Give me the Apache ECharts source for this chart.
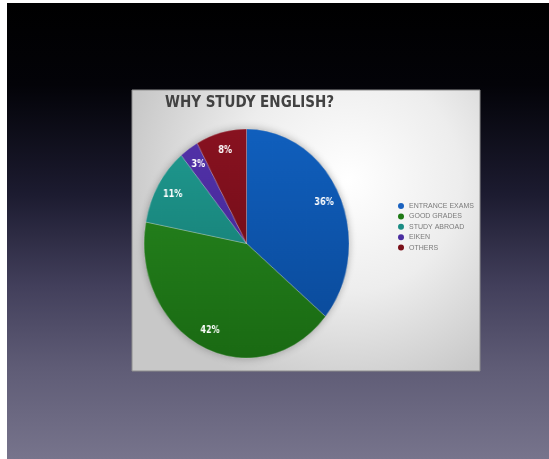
<!DOCTYPE html>
<html>
<head>
<meta charset="utf-8">
<script src="https://cdn.jsdelivr.net/npm/echarts@6/dist/echarts.min.js"></script>
<style>
  html, body { margin: 0; padding: 0; background: #ffffff; }
  #wrap { position: relative; width: 549px; height: 459px; overflow: hidden; }
  #slide { position: absolute; left: 0; top: 0; width: 549px; height: 459px; }
  #pie { position: absolute; left: 116px; top: 113px; width: 261px; height: 261px;
         transform-origin: 130.5px 130.5px; transform: scaleX(0.895); }
</style>
</head>
<body>
<div id="wrap">
  <div id="slide"></div>
  <div id="pie"></div>
</div>
<script>
// Survey answers: why students study English (percent of respondents)
const reasons = ['ENTRANCE EXAMS', 'GOOD GRADES', 'STUDY ABROAD', 'EIKEN', 'OTHERS'];
const shares = [36, 42, 11, 3, 8];
const topColors = ['#105fbd', '#288a20', '#1f9a90', '#5232a8', '#881220'];
const bottomColors = ['#0a4896', '#1a6a13', '#13726a', '#3f2290', '#670a14'];
const swatchColors = ['#1a62c0', '#1f7a16', '#1b8c84', '#4a2ea0', '#7a1018'];
const chartTitle = 'WHY STUDY ENGLISH?';

// ---- slide: background, white card, title and legend ----
const slide = echarts.init(document.getElementById('slide'), null, { renderer: 'canvas' });

const slideGraphics = [
  {
    type: 'rect', shape: { x: 7, y: 3, width: 542, height: 456 }, z: 0,
    style: {
      fill: {
        type: 'linear', x: 0, y: 0, x2: 0, y2: 1,
        colorStops: [
          { offset: 0, color: '#000000' },
          { offset: 0.18, color: '#030308' },
          { offset: 0.42, color: '#1c1b30' },
          { offset: 0.62, color: '#423f5b' },
          { offset: 0.8, color: '#5f5c76' },
          { offset: 1, color: '#77748c' }
        ]
      }
    }
  },
  {
    type: 'rect', shape: { x: 132, y: 90, width: 348, height: 281 }, z: 1,
    style: {
      fill: {
        type: 'radial', x: 0.62, y: 0.32, r: 0.8,
        colorStops: [
          { offset: 0, color: '#ffffff' },
          { offset: 0.5, color: '#ededed' },
          { offset: 1, color: '#c8c8c8' }
        ]
      },
      stroke: '#8e8e8e', lineWidth: 1
    }
  },
  {
    type: 'text', x: 165, y: 103, z: 2,
    style: {
      text: chartTitle, fill: '#424242',
      font: 'bold 15px "DejaVu Sans Condensed", "DejaVu Sans", sans-serif',
      verticalAlign: 'middle'
    }
  }
];

// legend: one dot and one name per reason
reasons.forEach((name, i) => {
  const y = 206 + i * 10.4;
  slideGraphics.push({
    type: 'circle', z: 3,
    shape: { cx: 401, cy: y, r: 3 },
    style: { fill: swatchColors[i] }
  });
  slideGraphics.push({
    type: 'text', z: 3, x: 409, y: y,
    style: {
      text: name, fill: '#7a7a7a',
      font: '7px "Liberation Sans", Arial, sans-serif',
      verticalAlign: 'middle'
    }
  });
});

slide.setOption({ animation: false, graphic: slideGraphics });

// ---- pie ----
const pie = echarts.init(document.getElementById('pie'), null, { renderer: 'canvas' });
const R = 114.5;
const C = 130.5;

const sliceData = reasons.map((name, i) => ({
  name: name,
  value: shares[i],
  itemStyle: {
    color: {
      type: 'linear', global: true, x: 0, y: C - R, x2: 0, y2: C + R,
      colorStops: [
        { offset: 0, color: topColors[i] },
        { offset: 1, color: bottomColors[i] }
      ]
    }
  }
}));

pie.setOption({
  animation: false,
  graphic: [
    {
      type: 'circle', shape: { cx: C, cy: C, r: R }, z: -1,
      style: { fill: '#888', shadowBlur: 9, shadowColor: 'rgba(0,0,0,0.3)' }
    }
  ],
  series: [
    {
      type: 'pie',
      center: [C, C],
      radius: [0, R],
      startAngle: 90,
      clockwise: true,
      silent: true,
      label: { show: false },
      labelLine: { show: false },
      itemStyle: { borderColor: 'rgba(255,255,255,0.35)', borderWidth: 0.7 },
      data: sliceData
    },
    {
      // transparent ring used only to place the percent labels near the rim
      type: 'pie',
      center: [C, C],
      radius: [R * 0.62, R],
      startAngle: 90,
      clockwise: true,
      silent: true,
      itemStyle: { color: 'rgba(0,0,0,0)', borderWidth: 0 },
      label: {
        show: true, position: 'inside',
        formatter: '{c}%',
        color: '#ffffff',
        fontFamily: '"DejaVu Sans Condensed", "DejaVu Sans", sans-serif',
        fontWeight: 'bold', fontSize: 10
      },
      labelLine: { show: false },
      data: reasons.map((name, i) => ({ name: name, value: shares[i] }))
    }
  ]
});
</script>
</body>
</html>
